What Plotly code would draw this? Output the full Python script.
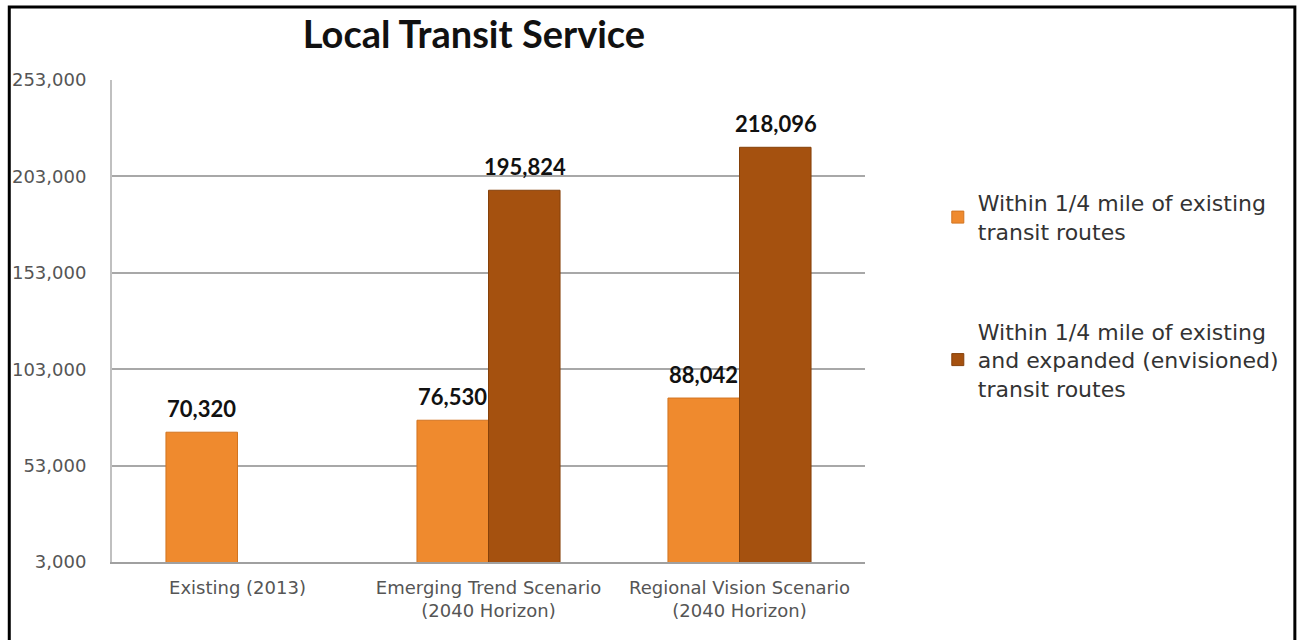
import plotly.graph_objects as go

# Categories and series values
categories = ["Existing (2013)", "Emerging Trend Scenario<br>(2040 Horizon)",
              "Regional Vision Scenario<br>(2040 Horizon)"]
existing_routes = [70320, 76530, 88042]
expanded_routes = [None, 195824, 218096]
y_ticks = [3000, 53000, 103000, 153000, 203000, 253000]
y_tick_labels = ["3,000", "53,000", "103,000", "153,000", "203,000", "253,000"]

series_names = ["Within 1/4 mile of existing<br>transit routes",
                "Within 1/4 mile of existing<br>and expanded (envisioned)<br>transit routes"]

W, H = 1297, 640
L, R, T, B = 110, 432, 80, 78
PW, PH = W - L - R, H - T - B

fig = go.Figure()
fig.add_trace(go.Bar(
    x=categories, y=existing_routes, name=series_names[0], legendgroup="a",
    marker=dict(color="#ef8a2e", line=dict(color="#d27420", width=1)),
))
fig.add_trace(go.Bar(
    x=categories, y=expanded_routes, name=series_names[1], legendgroup="b",
    marker=dict(color="#a5510f", line=dict(color="#85410a", width=1)),
))

# Value labels above each bar (left bar / right bar within each group)
label_font = dict(family="Lato", size=22, color="#111111")
for vals, shift in ((existing_routes, -36), (expanded_routes, 36)):
    for cat, v in zip(categories, vals):
        if v is None:
            continue
        fig.add_annotation(x=cat, y=v, text=f"<b>{v:,}</b>", showarrow=False,
                           xshift=shift, yshift=8, yanchor="bottom",
                           font=label_font)

# Black frame around the chart
fig.add_shape(type="rect", xref="paper", yref="paper",
              x0=(7 - L) / PW, x1=(1296 - L) / PW,
              y0=(H - B - 660) / PH, y1=(H - B - 7) / PH,
              line=dict(color="#000000", width=3), fillcolor="rgba(0,0,0,0)",
              layer="above")

fig.update_layout(
    width=W, height=H,
    margin=dict(l=L, r=R, t=T, b=B, pad=0),
    paper_bgcolor="#ffffff", plot_bgcolor="#ffffff",
    barmode="group", bargap=0.43, bargroupgap=0,
    title=dict(text="<b>Local Transit Service</b>", x=474 / W, xanchor="center",
               y=1 - 35 / H, yanchor="middle",
               font=dict(family="Lato", size=38, color="#111111")),
    showlegend=True,
    legend=dict(x=(938 - L) / PW, xanchor="left",
                y=(H - B - 182) / PH, yanchor="top",
                font=dict(family="DejaVu Sans", size=22, color="#333333"),
                itemwidth=30, tracegroupgap=68, bgcolor="rgba(0,0,0,0)"),
    xaxis=dict(tickfont=dict(family="DejaVu Sans", size=18, color="#555555"),
               showline=True, linecolor="#a0a0a0", linewidth=2,
               ticks="", showgrid=False, ticklabelstandoff=8),
    yaxis=dict(range=[3000, 253000], tickvals=y_ticks, ticktext=y_tick_labels,
               tickfont=dict(family="DejaVu Sans", size=18, color="#555555"),
               showgrid=True, gridcolor="#a8a8a8", gridwidth=2,
               showline=True, linecolor="#c0c0c0", linewidth=2,
               ticks="", ticklabelstandoff=20, zeroline=False),
)

fig.write_html("out.html")
